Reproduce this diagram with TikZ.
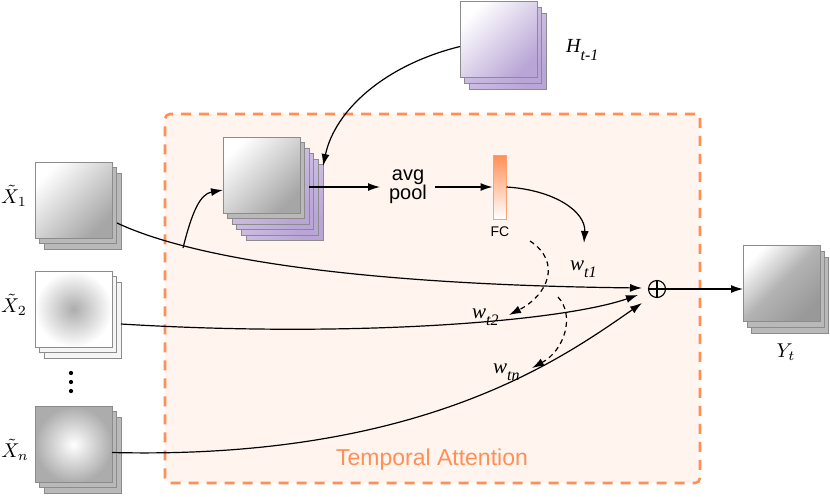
\documentclass[tikz,border=0pt]{standalone}
\usepackage{fontspec}
\setsansfont{Liberation Sans}
\newfontfamily\tms{Liberation Serif}
\usetikzlibrary{arrows.meta}
\definecolor{boxfill}{HTML}{FFF4EE}
\definecolor{boxline}{HTML}{FF8F55}
\definecolor{purp}{HTML}{B9A6D6}
\definecolor{purpl}{HTML}{DCD0EC}
\definecolor{edge}{HTML}{8C8C8C}
\begin{document}
\begin{tikzpicture}[x=1pt,y=-1pt,
  sq/.style={draw=edge, line width=0.9pt, minimum width=77pt, minimum height=76pt, inner sep=0pt, outer sep=0pt},
  grayback/.style={sq, fill=gray!55},
  graydiag/.style={sq, top color=white, bottom color=gray!70, shading angle=45},
  lightback/.style={sq, fill=gray!8},
  purpback/.style={sq, top color=purpl, bottom color=purp, shading angle=45},
  purpdiag/.style={sq, top color=white, bottom color=purp, shading angle=45},
  conn/.style={line width=1.2pt, -{Latex[length=12pt,width=8pt]}},
  dconn/.style={conn, dashed, dash pattern=on 5pt off 4pt},
  plain/.style={line width=1.2pt},
  sans/.style={font=\sffamily\fontsize{20}{22}\selectfont},
  mlab/.style={scale=2, inner sep=0pt},
  wlab/.style={inner sep=0pt, anchor=base west}
]
\useasboundingbox (0,0) rectangle (830,496);

% attention box
\node[draw=boxline, fill=boxfill, line width=2.6pt, dash pattern=on 10pt off 8pt,
  rounded corners=5pt, minimum width=535pt, minimum height=369pt, inner sep=0pt]
  (att) at (432.5,298.5) {};
\node[text=boxline, font=\sffamily\fontsize{23}{24}\selectfont] (attlab) at (432,460) {Temporal Attention};

% X1 stack
\node[grayback] (x1c) at (82.5,211) {};
\node[grayback] (x1b) at (77.5,205) {};
\node[graydiag] (x1) at (73.5,200) {};
% X2 stack
\node[lightback] (x2c) at (82.5,320) {};
\node[lightback] (x2b) at (77.5,314) {};
\node[sq, inner color=gray!65, outer color=white] (x2) at (73.5,309) {};
% Xn stack
\node[grayback] (xnc) at (82.5,455.5) {};
\node[grayback] (xnb) at (77.5,449.5) {};
\node[sq, inner color=white, outer color=gray!65] (xn) at (73.5,444.5) {};

% dots
\node[circle, fill=black, inner sep=1.5pt] (d1) at (71,373) {};
\node[circle, fill=black, inner sep=1.5pt] (d2) at (71,382) {};
\node[circle, fill=black, inner sep=1.5pt] (d3) at (71,391) {};

% X labels
\node[mlab] (lx1) at (14,196) {$\tilde{X}_1$};
\node[mlab] (lx2) at (14,305) {$\tilde{X}_2$};
\node[mlab] (lxn) at (15,450) {$\tilde{X}_n$};

% center stack
\node[purpback] (c5) at (284.5,202.5) {};
\node[purpback] (c4) at (279.9,197.1) {};
\node[purpback] (c3) at (275.3,191.7) {};
\node[purpback] (c2) at (270.7,186.3) {};
\node[grayback] (c1) at (266.1,180.9) {};
\node[graydiag] (c) at (261.5,175.5) {};

% H stack
\node[purpback] (hc) at (507.5,51.5) {};
\node[purpback] (hb) at (503,45.5) {};
\node[purpdiag] (h) at (498.5,39.5) {};
\node[inner sep=0pt, anchor=base west] (hlab) at (566,52)
  {\tms\itshape\fontsize{20}{20}\selectfont H\raisebox{-8pt}{\fontsize{16}{16}\selectfont t-1}};

% Y stack
\node[grayback] (yc) at (789.5,295) {};
\node[grayback] (yb) at (785.5,289) {};
\node[sq, top color=white, bottom color=gray!80, middle color=gray!60, shading angle=45] (y) at (781.5,283) {};
\node[mlab] (ylab) at (786,352) {$Y_t$};

% avg pool
\node[align=center, inner sep=0pt, font=\sffamily\fontsize{20}{19}\selectfont] (pool) at (408,187) {avg\\pool};

% FC
\node[draw=boxline!85, line width=1pt, top color=boxline, bottom color=white,
  minimum width=13pt, minimum height=64pt, inner sep=0pt] (fc) at (499.5,187) {};
\node[font=\sffamily\fontsize{14}{14}\selectfont, inner sep=0pt] (fclab) at (500,232) {FC};

% sum
\node[circle, draw, line width=1.1pt, minimum size=17pt, inner sep=0pt] (sum) at (657,289) {};
\draw[line width=1.1pt] (sum.north) -- (sum.south) (sum.west) -- (sum.east);

% weight labels
\node[wlab] (w1) at (570,270) {\tms\itshape\fontsize{21}{21}\selectfont w\raisebox{-7pt}{\fontsize{16}{16}\selectfont t1}};
\node[wlab] (w2) at (472,318) {\tms\itshape\fontsize{21}{21}\selectfont w\raisebox{-7pt}{\fontsize{16}{16}\selectfont t2}};
\node[wlab] (wn) at (493,373) {\tms\itshape\fontsize{21}{21}\selectfont w\raisebox{-7pt}{\fontsize{16}{16}\selectfont tn}};

% coordinates
\coordinate (branch) at (183,248);
\coordinate (w1tip) at (584,243);
\coordinate (w2tip) at (509,315);
\coordinate (wntip) at (532,368);
\coordinate (d1s) at (530,241);
\coordinate (d2s) at (558,297);

% connectors
\draw[conn] ([yshift=-12pt,xshift=-4pt]x1c.east) .. controls (200,262) and (380,285) .. ([xshift=-15pt,yshift=1pt]sum.center);
\draw[conn] (branch) .. controls (192,212) and (200,194) .. ([yshift=-14.5pt]c.west);
\draw[conn] ([yshift=-4pt]x2c.east) .. controls (350,338) and (560,322) .. ([xshift=-19pt,yshift=-6pt]sum.center);
\draw[conn] ([yshift=-8pt]xn.east) .. controls (420,460) and (560,360) .. ([xshift=-15pt,yshift=-14pt]sum.center);
\draw[conn] ([yshift=-7pt]h.west) .. controls (385,65) and (335,110) .. ([yshift=-1.5pt]c5.north east);
\draw[conn] (c2.east |- pool.west) -- ([xshift=-28pt]pool.center);
\draw[conn] ([xshift=27pt]pool.center) -- (fc.west);
\draw[conn] (fc.east) .. controls (555,190) and (586,212) .. (w1tip);
\draw[dconn] (d1s) .. controls (562,262) and (548,295) .. (w2tip);
\draw[dconn] (d2s) .. controls (575,315) and (565,350) .. (wntip);
\draw[conn] (sum.east) -- (y.west |- sum.east);
\end{tikzpicture}
\end{document}
